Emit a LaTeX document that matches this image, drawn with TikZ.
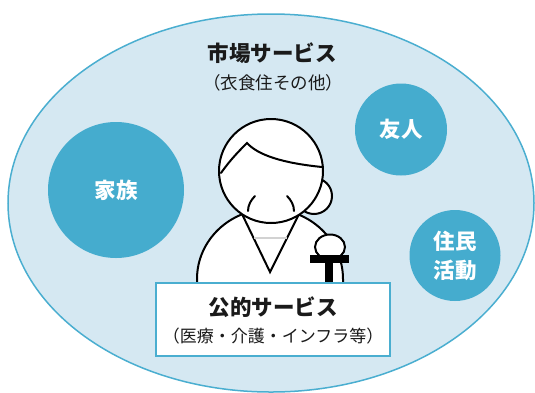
\documentclass[tikz,border=0pt]{standalone}
\usepackage{fontspec}
\newfontfamily\jp{Noto Sans CJK JP}
\definecolor{skyfill}{HTML}{D5E8F2}
\definecolor{skyline}{HTML}{4AAED0}
\definecolor{bubblecol}{HTML}{45ACCE}
\definecolor{ink}{HTML}{1A1A1A}
\tikzset{
  bubble/.style={circle, fill=bubblecol, text=white, inner sep=0pt,
    font=\jp\bfseries\fontsize{21.5}{29}\selectfont, align=center},
  headline/.style={text=ink, inner sep=0pt, font=\jp\bfseries\fontsize{21.5}{26}\selectfont},
  subline/.style={text=ink, inner sep=0pt, font=\jp\fontsize{17}{20}\selectfont},
  figline/.style={draw=black, line width=2pt},
}
\begin{document}
\begin{tikzpicture}[x=1pt,y=-1pt]
\useasboundingbox (0,0) rectangle (535,392);
\begin{scope}
\clip (0,0) rectangle (535,392);
% outer field: market services
\draw[fill=skyfill, draw=skyline, line width=1.5pt] (271,203) ellipse[x radius=263, y radius=189];
\end{scope}

% surrounding support circles
\node[bubble, minimum size=136pt] (family) at (116,190) {家族};
\node[bubble, minimum size=92pt] (friend) at (401,129.5) {友人};
\node[bubble, minimum size=91pt] (resident) at (455,255.5) {住民\\活動};

% the person: body
\path[figline, fill=white] (197,284) -- (197,279)
  arc[start angle=180, end angle=360, x radius=73, y radius=70] -- (343,284);
% collar
\draw[figline, line join=miter] (242,214) -- (270,272) -- (299,214);
\draw[gray!35, line width=1.5pt] (254,238) -- (287,238);
% hair bun and head
\draw[figline, fill=white] (314,196) circle[radius=18];
\draw[figline, fill=white] (271,171) circle[radius=52];
% hair line
\draw[figline, line cap=round] (221,173) .. controls (230,160) and (240,150) .. (247,143)
  .. controls (258,155) and (282,163) .. (322,167);
% closed eyes
\draw[figline, line cap=round] (255,196) .. controls (251,200) and (248,205) .. (248,211);
\draw[figline, line cap=round] (287,196) .. controls (291,200) and (294,205) .. (294,211);
% microphone
\draw[figline, fill=white] (330,247) ellipse[x radius=15, y radius=12.5];
\fill[black] (310,255) rectangle (349,263);
\fill[black] (325,263) rectangle (333,284);

% public services box
\node[draw=skyline, fill=white, line width=1.5pt, minimum width=234pt, minimum height=73pt, inner sep=0pt]
  (public) at (273,319.5) {};
\node[headline] (publictitle) at (273,307) {公的サービス};
\node[subline] (publicsub) at (273,336) {（医療・介護・インフラ等）};

% market services heading
\node[headline] (markettitle) at (272,53) {市場サービス};
\node[subline, font=\jp\fontsize{17.5}{20}\selectfont] (marketsub) at (273,83) {（衣食住その他）};
\end{tikzpicture}
\end{document}
